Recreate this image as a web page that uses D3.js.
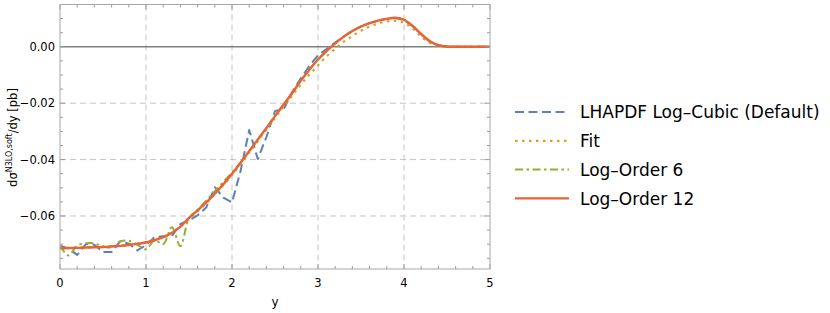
<!DOCTYPE html>
<html>
<head>
<meta charset="utf-8">
<script src="https://cdn.jsdelivr.net/npm/d3@7"></script>
<style>
  body { margin: 0; background: #fff; }
  svg { font-family: "DejaVu Sans", sans-serif; }
</style>
</head>
<body>
<div id="chart"></div>
<script>
'use strict';

// x grid of the sampled curves (0 to 5, step 0.1)
const ys = d3.range(0, 51).map(i => +(i * 0.1).toFixed(1));

const lhapdf = [-0.0705, -0.0715, -0.0738, -0.0700, -0.0702, -0.0728, -0.0728, -0.0690, -0.0698, -0.0722,
  -0.0703, -0.0675, -0.0672, -0.0672, -0.0628, -0.0615, -0.0598, -0.0570, -0.0498, -0.0535,
  -0.0552, -0.0440, -0.0295, -0.0398, -0.0320, -0.0228, -0.0222, -0.0160, -0.0112, -0.0068,
  -0.0030, -0.0008, 0.0015, 0.0037, 0.0056, 0.0072, 0.0084, 0.0093, 0.0099, 0.0102,
  0.0095, 0.0073, 0.0044, 0.0019, 0.0005, 0.0001, 0, 0, 0, 0, 0];

const fit = [-0.0713, -0.0712, -0.0712, -0.0711, -0.0710, -0.0709, -0.0707, -0.0705, -0.0702, -0.0698,
  -0.0693, -0.0685, -0.0674, -0.0659, -0.0638, -0.0610, -0.0583, -0.0555, -0.0523, -0.0490,
  -0.0454, -0.0415, -0.0375, -0.0334, -0.0293, -0.0252, -0.0212, -0.0173, -0.0134, -0.0099,
  -0.0066, -0.0034, -0.0007, 0.0018, 0.0039, 0.0057, 0.0072, 0.0083, 0.0090, 0.0092,
  0.0085, 0.0065, 0.0037, 0.0014, 0.0003, 0, 0, 0, 0, 0, 0];

const order6 = [-0.0705, -0.0740, -0.0705, -0.0697, -0.0697, -0.0708, -0.0712, -0.0690, -0.0688, -0.0702,
  -0.0718, -0.0686, -0.0700, -0.0640, -0.0707, -0.0608, -0.0578, -0.0546, -0.0512, -0.0479,
  -0.0446, -0.0410, -0.0370, -0.0329, -0.0288, -0.0246, -0.0205, -0.0164, -0.0120, -0.0081,
  -0.0045, -0.0015, 0.0012, 0.0036, 0.0056, 0.0072, 0.0084, 0.0093, 0.0099, 0.0103,
  0.0096, 0.0074, 0.0045, 0.0020, 0.0006, 0.0001, 0, 0, 0, 0, 0];

const order12 = [-0.0715, -0.0714, -0.0713, -0.0712, -0.0711, -0.0710, -0.0708, -0.0706, -0.0703, -0.0699,
  -0.0694, -0.0686, -0.0675, -0.0660, -0.0638, -0.0607, -0.0580, -0.0552, -0.0521, -0.0487,
  -0.0450, -0.0411, -0.0370, -0.0329, -0.0288, -0.0246, -0.0205, -0.0164, -0.0120, -0.0081,
  -0.0045, -0.0015, 0.0012, 0.0036, 0.0056, 0.0072, 0.0084, 0.0093, 0.0099, 0.0103,
  0.0096, 0.0074, 0.0045, 0.0020, 0.0006, 0.0001, 0, 0, 0, 0, 0];

const seriesNames = ['LHAPDF Log\u2013Cubic (Default)', 'Fit', 'Log\u2013Order 6', 'Log\u2013Order 12'];
const xTicks = [0, 1, 2, 3, 4, 5];
const yTicks = [0, -0.02, -0.04, -0.06];

const series = [
  {name: seriesNames[0], values: lhapdf, color: '#5e81b5', dash: '9,4.5', width: 2, curve: d3.curveLinear},
  {name: seriesNames[1], values: fit, color: '#e19c24', dash: '2.5,4.5', width: 2.2, curve: d3.curveCatmullRom},
  {name: seriesNames[2], values: order6, color: '#8fb032', dash: '8,3.5,2.5,3.5', width: 2, curve: d3.curveCatmullRom},
  {name: seriesNames[3], values: order12, color: '#eb6235', dash: null, width: 2.4, curve: d3.curveCatmullRom},
];

const svg = d3.select('#chart').append('svg')
  .attr('width', 830)
  .attr('height', 313);

const margin = {top: 4.5, right: 340, bottom: 44, left: 60};
const width = 830 - margin.left - margin.right;
const height = 313 - margin.top - margin.bottom;

const x = d3.scaleLinear().domain([0, 5]).range([0, width]);
const y = d3.scaleLinear().domain([-0.0788, 0.015]).range([height, 0]);

const g = svg.append('g').attr('transform', `translate(${margin.left},${margin.top})`);

// grid
g.selectAll('.vgrid').data(xTicks.slice(1, -1)).enter().append('line')
  .attr('x1', d => x(d)).attr('x2', d => x(d))
  .attr('y1', 0).attr('y2', height)
  .attr('stroke', '#c4c4c4').attr('stroke-width', 1).attr('stroke-dasharray', '6,4');
g.selectAll('.hgrid').data(yTicks.slice(1)).enter().append('line')
  .attr('x1', 0).attr('x2', width)
  .attr('y1', d => y(d)).attr('y2', d => y(d))
  .attr('stroke', '#c4c4c4').attr('stroke-width', 1).attr('stroke-dasharray', '6,4');

// zero axis line
g.append('line')
  .attr('x1', 0).attr('x2', width)
  .attr('y1', y(0)).attr('y2', y(0))
  .attr('stroke', '#808080').attr('stroke-width', 1.5);

// curves
const clip = svg.append('clipPath').attr('id', 'clip').append('rect')
  .attr('width', width).attr('height', height);

const plot = g.append('g').attr('clip-path', 'url(#clip)');
series.forEach(s => {
  const line = d3.line()
    .x((d, i) => x(ys[i]))
    .y(d => y(d))
    .curve(s.curve);
  plot.append('path')
    .datum(s.values)
    .attr('d', line)
    .attr('fill', 'none')
    .attr('stroke', s.color)
    .attr('stroke-width', s.width)
    .attr('stroke-dasharray', s.dash)
    .attr('stroke-linejoin', 'round');
});

// frame ticks: inward, on all four sides
const xMinor = d3.range(0, 5.001, 0.2).map(v => +v.toFixed(1));
const yMinor = d3.range(-0.075, 0.0151, 0.005).map(v => +v.toFixed(3));
const tickColor = '#9a9a9a';
const isMajorX = v => Math.abs(v - Math.round(v)) < 1e-6;
const isMajorY = v => Math.abs(v / 0.02 - Math.round(v / 0.02)) < 1e-6;

xMinor.forEach(v => {
  const len = isMajorX(v) ? 5 : 3;
  g.append('line').attr('x1', x(v)).attr('x2', x(v)).attr('y1', height).attr('y2', height - len)
    .attr('stroke', tickColor);
  g.append('line').attr('x1', x(v)).attr('x2', x(v)).attr('y1', 0).attr('y2', len)
    .attr('stroke', tickColor);
});
yMinor.forEach(v => {
  const len = isMajorY(v) ? 5 : 3;
  g.append('line').attr('x1', 0).attr('x2', len).attr('y1', y(v)).attr('y2', y(v))
    .attr('stroke', tickColor);
  g.append('line').attr('x1', width).attr('x2', width - len).attr('y1', y(v)).attr('y2', y(v))
    .attr('stroke', tickColor);
});

g.append('rect')
  .attr('width', width).attr('height', height)
  .attr('fill', 'none').attr('stroke', '#a8a8a8').attr('stroke-width', 1);

// tick labels
const fmtY = d => (d === 0 ? '0.00' : '\u2212' + Math.abs(d).toFixed(2));
g.selectAll('.xlab').data(xTicks).enter().append('text')
  .attr('x', d => x(d)).attr('y', height + 18)
  .attr('text-anchor', 'middle')
  .attr('font-size', 11.5)
  .text(d => d);
g.selectAll('.ylab').data(yTicks).enter().append('text')
  .attr('x', -5).attr('y', d => y(d)).attr('dy', '0.35em')
  .attr('text-anchor', 'end')
  .attr('font-size', 11.5)
  .text(fmtY);

// axis titles
g.append('text')
  .attr('x', width / 2).attr('y', height + 37)
  .attr('text-anchor', 'middle')
  .attr('font-size', 12)
  .text('y');

const yTitle = svg.append('text')
  .attr('transform', `translate(17,${margin.top + 133}) rotate(-90)`)
  .attr('text-anchor', 'middle')
  .attr('font-size', 11.5);
yTitle.append('tspan').text('d\u03c3');
yTitle.append('tspan').attr('font-size', 8).attr('dy', -5).text('N3LO,soft');
yTitle.append('tspan').attr('dy', 5).text('/dy [pb]');

// legend
const legend = svg.append('g').attr('transform', 'translate(515,112)');
series.forEach((s, i) => {
  const row = legend.append('g').attr('transform', `translate(0,${i * 28.8})`);
  row.append('line')
    .attr('x1', 0).attr('x2', 54)
    .attr('stroke', s.color)
    .attr('stroke-width', s.width)
    .attr('stroke-dasharray', s.dash);
  row.append('text')
    .attr('x', 65).attr('dy', '0.36em')
    .attr('font-size', 17)
    .text(s.name);
});
</script>
</body>
</html>
